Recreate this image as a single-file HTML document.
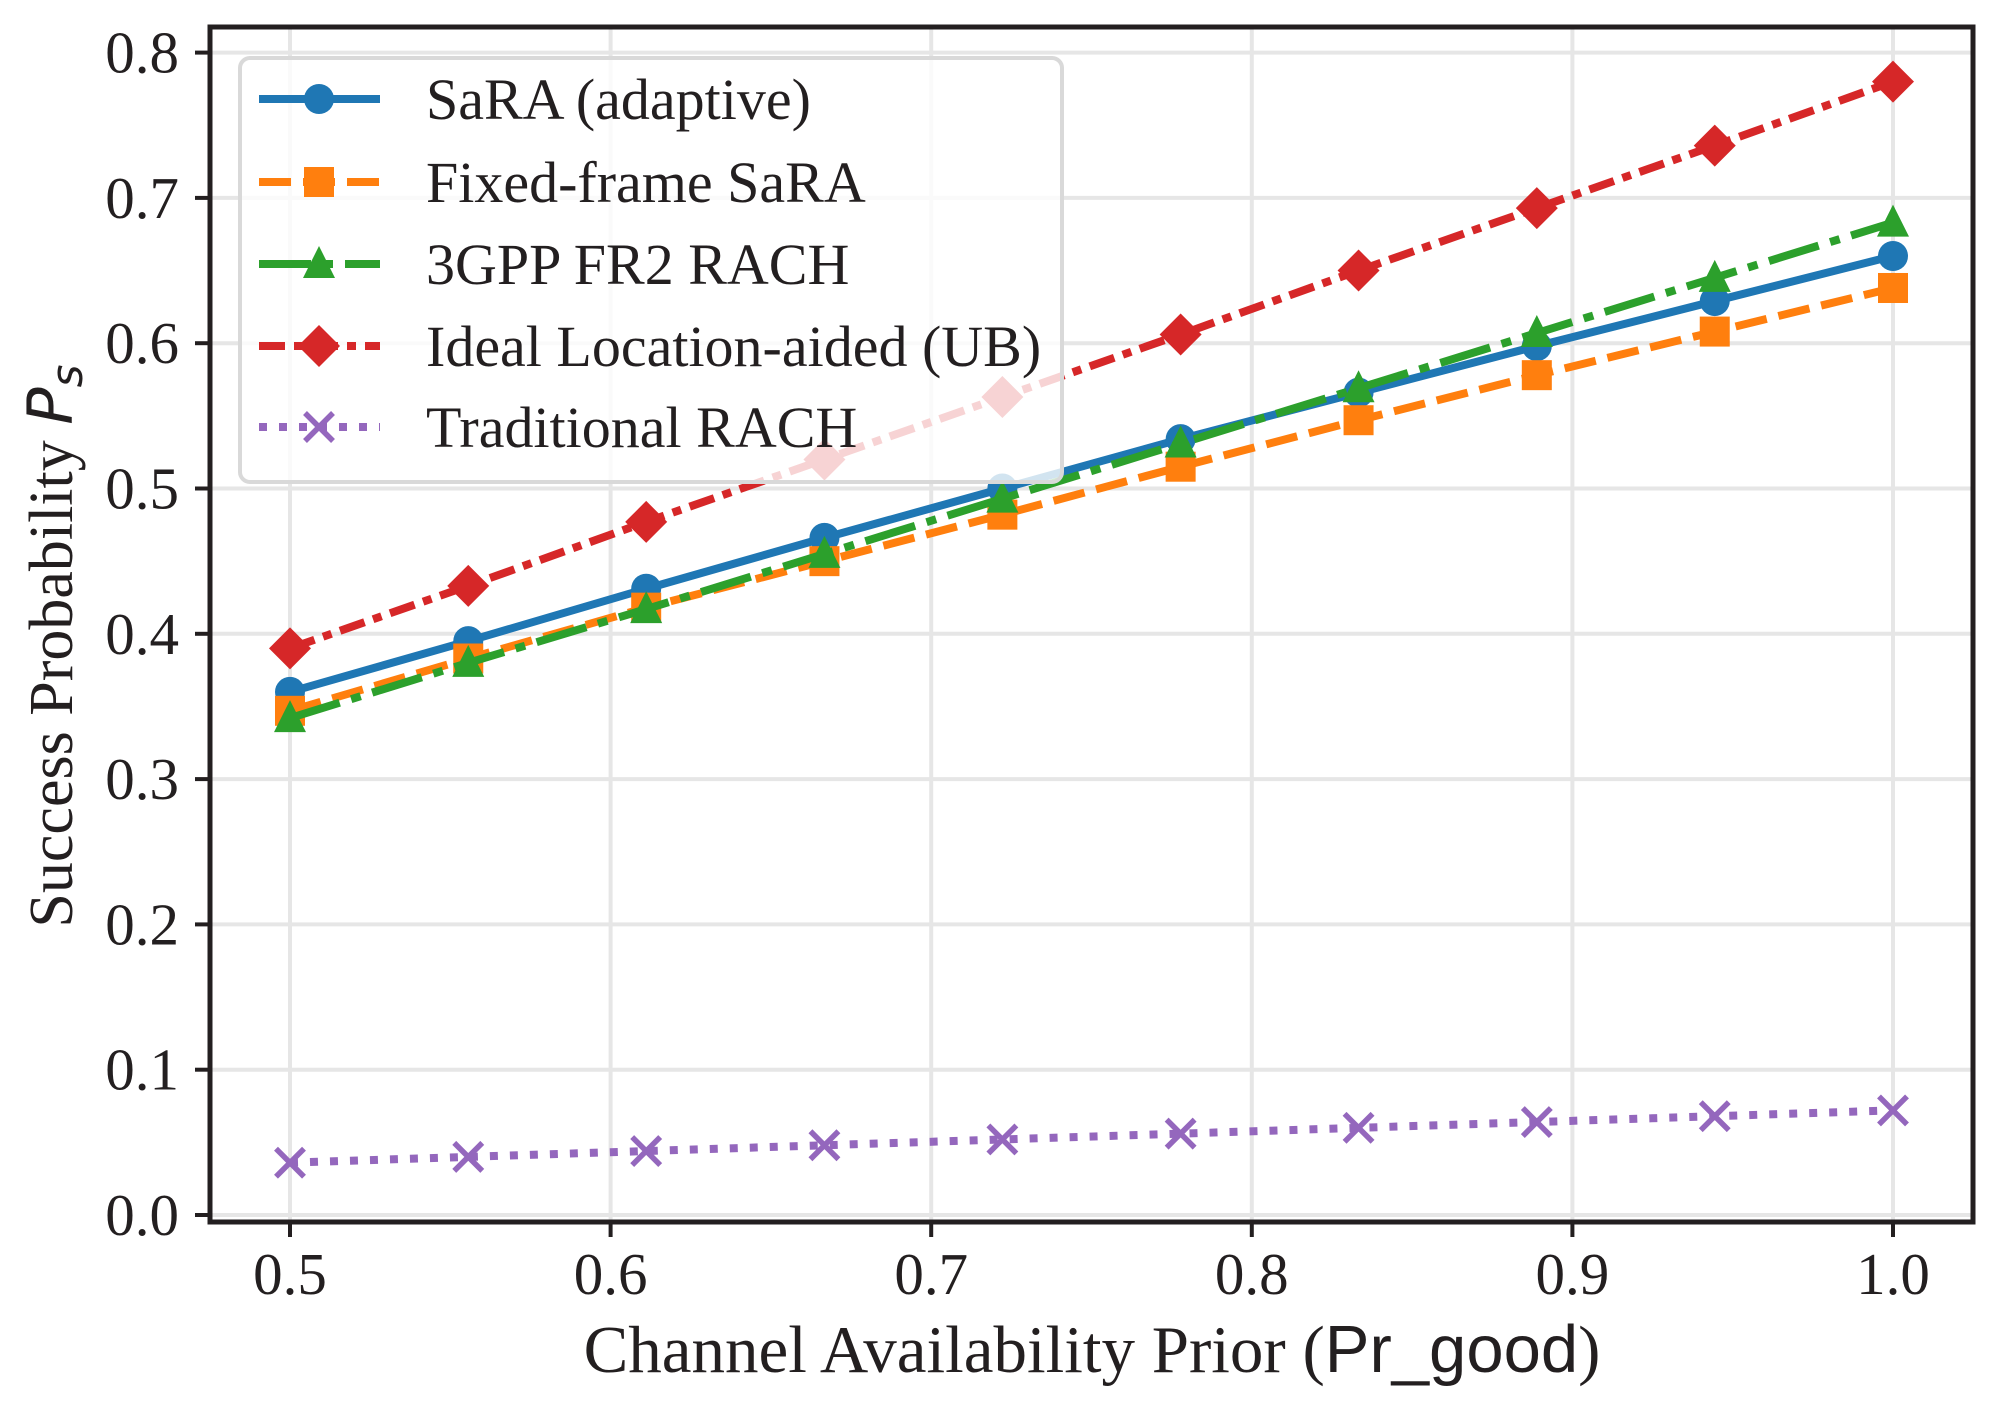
<!DOCTYPE html>
<html><head><meta charset="utf-8"><style>
html,body{margin:0;padding:0;background:#fff;}
svg{display:block;font-family:"Liberation Serif",serif;}
</style></head><body>
<svg id="chart" width="2002" height="1403" viewBox="0 0 2002 1403" xmlns="http://www.w3.org/2000/svg">
<g id="grid"></g>
<g id="series"></g>
<g id="axes"></g>
<g id="legend"></g>
<text x="72" y="646" transform="rotate(-90 72 646)" text-anchor="middle" font-size="62" fill="#231f20">Success Probability <tspan font-family="DejaVu Sans, sans-serif" font-style="italic">P</tspan><tspan font-family="DejaVu Sans, sans-serif" font-style="italic" font-size="44" dy="10">s</tspan></text>
<text x="1092" y="1372" text-anchor="middle" font-size="67" fill="#231f20">Channel Availability Prior (<tspan font-family="Liberation Sans, sans-serif">Pr_good</tspan>)</text>
</svg>
<script>
const xValues=[0.5,0.5556,0.6111,0.6667,0.7222,0.7778,0.8333,0.8889,0.9444,1.0];
const saraAdaptive=[0.36,0.395,0.431,0.466,0.500,0.534,0.566,0.598,0.629,0.660];
const fixedFrame=[0.347,0.383,0.418,0.450,0.482,0.515,0.547,0.578,0.608,0.638];
const gppFr2=[0.342,0.380,0.417,0.455,0.493,0.531,0.569,0.607,0.645,0.683];
const idealLoc=[0.390,0.433,0.477,0.520,0.563,0.606,0.650,0.693,0.736,0.780];
const traditional=[0.036,0.040,0.044,0.048,0.052,0.056,0.060,0.064,0.068,0.072];
const xTicks=[0.5,0.6,0.7,0.8,0.9,1.0];
const yTicks=[0.0,0.1,0.2,0.3,0.4,0.5,0.6,0.7,0.8];
const seriesNames=["SaRA (adaptive)","Fixed-frame SaRA","3GPP FR2 RACH","Ideal Location-aided (UB)","Traditional RACH"];

const NS="http://www.w3.org/2000/svg";
const L=210,R=1973,T=27,B=1222;
function sx(v){return 290+(v-0.5)*3206;}
function sy(v){return 1215-v*1453;}
function mk(tag,attrs,parent){const e=document.createElementNS(NS,tag);for(const k in attrs)e.setAttribute(k,attrs[k]);parent.appendChild(e);return e;}
const grid=document.getElementById('grid'),axes=document.getElementById('axes'),ser=document.getElementById('series'),leg=document.getElementById('legend');

xTicks.forEach(t=>{
  const g=mk('line',{x1:sx(t),x2:sx(t),y1:T,y2:B,stroke:'#e6e6e6','stroke-width':4},grid);
  
  
  const k=mk('line',{x1:sx(t),x2:sx(t),y1:B,y2:B+15,stroke:'#231f20','stroke-width':4},axes);
  
  
  const tx=mk('text',{x:sx(t),y:B+72,'text-anchor':'middle','font-size':59,fill:'#231f20'},axes);
  tx.textContent=t.toFixed(1);
  
  
});
yTicks.forEach(t=>{
  const g=mk('line',{x1:L,x2:R,y1:sy(t),y2:sy(t),stroke:'#e6e6e6','stroke-width':4},grid);
  
  
  const k=mk('line',{x1:L-15,x2:L,y1:sy(t),y2:sy(t),stroke:'#231f20','stroke-width':4},axes);
  
  
  const tx=mk('text',{x:179,y:sy(t)+20,'text-anchor':'end','font-size':59,fill:'#231f20'},axes);
  tx.textContent=t.toFixed(1);
  
  
});
const frame=mk('rect',{x:L,y:T,width:R-L,height:B-T,fill:'none',stroke:'#231f20','stroke-width':5},axes);



const styles=[
 {data:saraAdaptive,color:'#1f77b4',dash:'',marker:'circle'},
 {data:fixedFrame,color:'#ff7f0e',dash:'32 12',marker:'square'},
 {data:gppFr2,color:'#2ca02c',dash:'52 12 10 12',marker:'triangle'},
 {data:idealLoc,color:'#d62728',dash:'26 9 9 9',marker:'diamond'},
 {data:traditional,color:'#9467bd',dash:'8 12',marker:'x'}
];
function marker(type,x,y,color,parent){
  let e;
  if(type==='circle')e=mk('circle',{cx:x,cy:y,r:15,fill:color},parent);
  else if(type==='square')e=mk('rect',{x:x-15,y:y-15,width:30,height:30,fill:color},parent);
  else if(type==='triangle')e=mk('polygon',{points:`${x},${y-18} ${x-16},${y+14} ${x+16},${y+14}`,fill:color},parent);
  else if(type==='diamond')e=mk('polygon',{points:`${x},${y-21} ${x+21},${y} ${x},${y+21} ${x-21},${y}`,fill:color},parent);
  else {e=mk('path',{d:`M${x-14},${y-14}L${x+14},${y+14}M${x-14},${y+14}L${x+14},${y-14}`,stroke:color,'stroke-width':5.5,fill:'none'},parent);}
  return e;
}
styles.forEach((s,i)=>{
  const g=mk('g',{},ser);
  
  
  const pts=s.data.map((v,j)=>sx(xValues[j])+','+sy(v)).join(' ');
  const pl=mk('polyline',{points:pts,fill:'none',stroke:s.color,'stroke-width':8,'stroke-dasharray':s.dash},g);
  
  
  s.data.forEach((v,j)=>{
    const m=marker(s.marker,sx(xValues[j]),sy(v),s.color,g);
    
    
  });
});
const box=mk('rect',{x:240,y:58,width:822,height:424,rx:10,fill:'#fff','fill-opacity':0.8,stroke:'#d9d9d9','stroke-width':4},leg);


const rows=[99,182,264,346,427];
styles.forEach((s,i)=>{
  const g=mk('g',{},leg);
  
  
  mk('line',{x1:259,x2:380,y1:rows[i],y2:rows[i],stroke:s.color,'stroke-width':8,'stroke-dasharray':s.dash},g);
  marker(s.marker,319,rows[i],s.color,g);
  const t=mk('text',{x:426,y:rows[i]+20,'font-size':58,fill:'#231f20'},g);
  t.textContent=seriesNames[i];
});
</script>
</body></html>
